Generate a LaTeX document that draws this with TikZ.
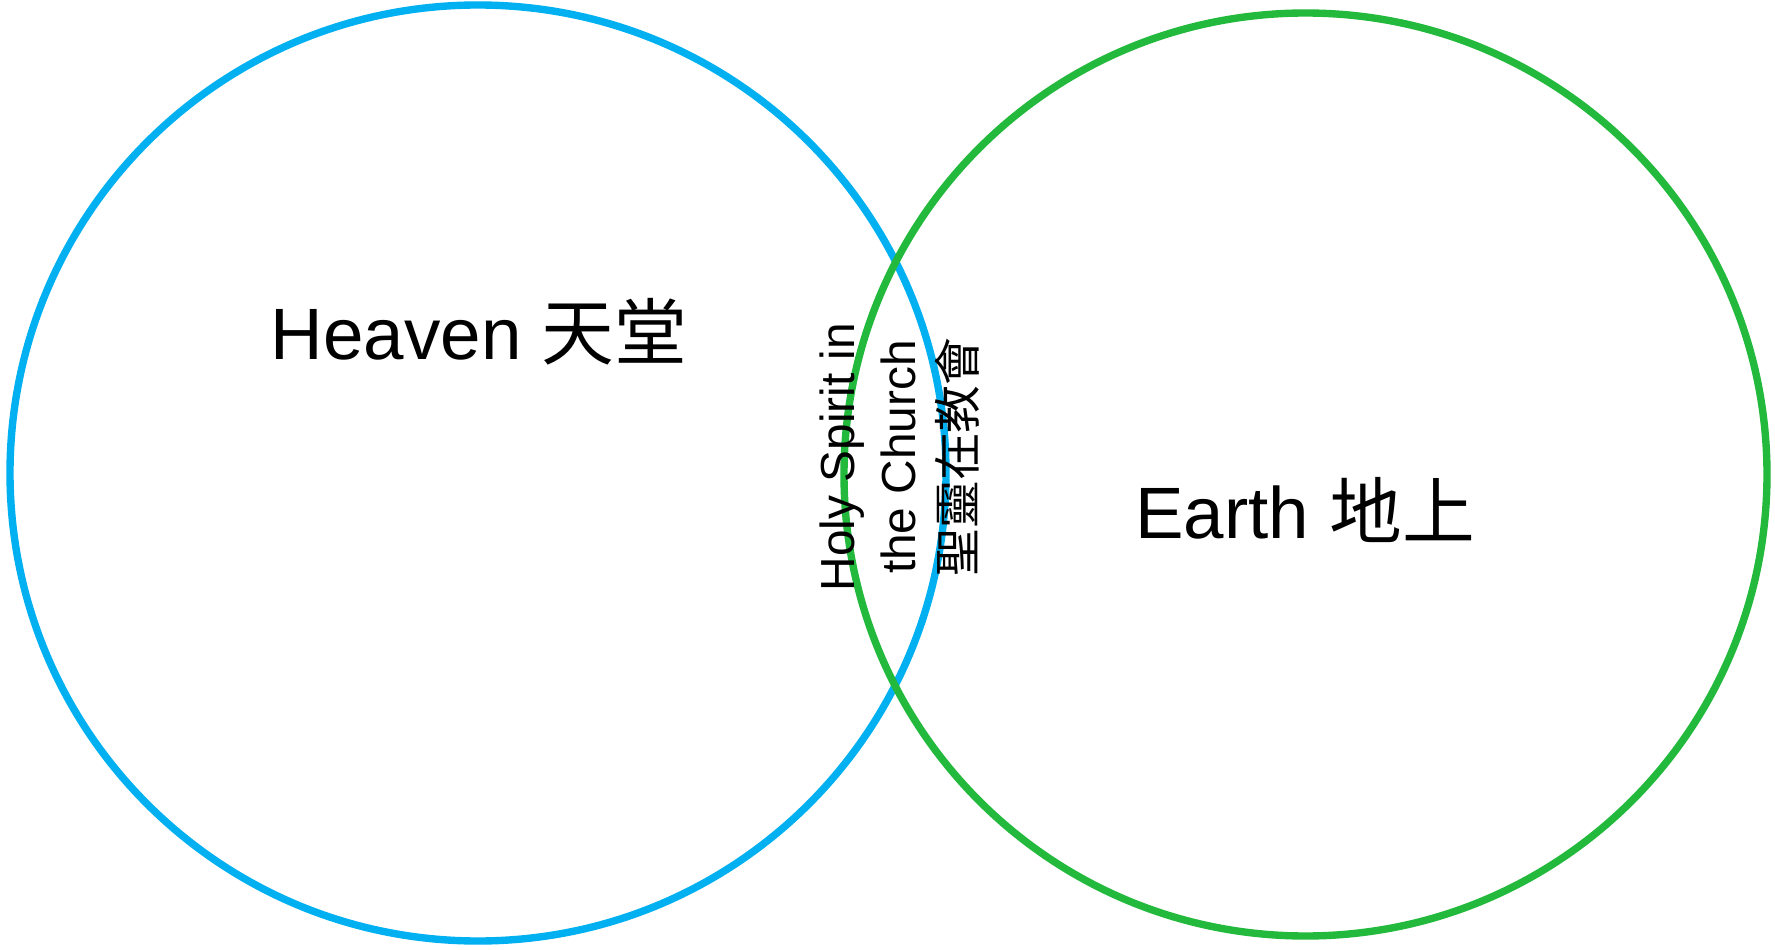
\documentclass[tikz,border=0pt]{standalone}
\usepackage{fontspec}
\setmainfont{Liberation Sans}
\newfontfamily\cjk{Noto Sans CJK TC}
\definecolor{heavenblue}{RGB}{0,176,240}
\definecolor{earthgreen}{RGB}{34,185,60}
\begin{document}
\begin{tikzpicture}

    \tikzset{
      ring/.style={
        line width=2.1pt,
      },
      biglabel/.style={
        anchor=base,
        inner sep=0pt,
        font=\fontsize{20.7}{25}\selectfont,
      },
      midlabel/.style={
        rotate=90,
        align=center,
        inner sep=0pt,
        font=\fontsize{13.6}{17.2}\selectfont,
      },
    }
    \useasboundingbox (0,0) rectangle (17.75,9.49);
	\draw[ring,color={heavenblue}] (4.78,4.76) circle (4.68);
	\draw[ring,color={earthgreen}] (13.055,4.745) circle (4.615);
	\node[biglabel] (heaven) at (4.79,5.90) {Heaven {\cjk 天堂}};
	\node[biglabel] (earth) at (13.05,4.11) {Earth {\cjk 地上}};
	\node[midlabel] (spirit) at (9.00,4.92) {Holy Spirit in\\the Church\\{\cjk 聖靈在教會}};

\end{tikzpicture}
\end{document}
